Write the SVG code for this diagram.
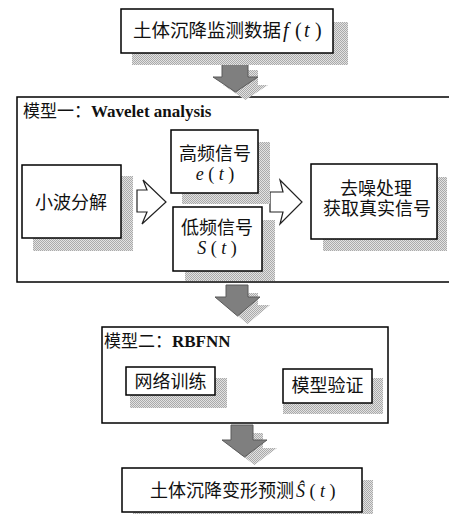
<svg xmlns="http://www.w3.org/2000/svg" width="449" height="514" viewBox="0 0 449 514">
<defs>
<pattern id="dots" width="2" height="2" patternUnits="userSpaceOnUse">
<rect width="2" height="2" fill="#e2e2e2"/>
<rect width="1" height="1" fill="#aaaaaa"/>
<rect x="1" y="1" width="1" height="1" fill="#aaaaaa"/>
</pattern>
<style>
.box{fill:#fff;stroke:#000;stroke-width:1.5}
.frame{fill:none;stroke:#000;stroke-width:1.5}
.sh{fill:url(#dots)}
.t{font-family:"Liberation Serif","Noto Sans CJK SC",serif;font-size:18px;fill:#111}
.it{font-style:italic}
.title{font-family:"Liberation Serif","Noto Sans CJK SC",serif;font-size:17px;fill:#111}
.b{font-weight:bold}
.garrow{fill:#7f7f7f;stroke:#5a5a5a;stroke-width:1}
.sarrow{fill:url(#dots)}
.oarrow{fill:#fff;stroke:#222;stroke-width:1.2;stroke-linejoin:miter}
</style>
</defs>
<rect width="449" height="514" fill="#fff"/>

<g id="model1">
<rect class="frame" x="17" y="97" width="440" height="185"/>
<text class="title" x="23" y="117">模型一：<tspan class="b">Wavelet analysis</tspan></text>
</g>
<g id="model2">
<rect class="frame" x="102" y="327" width="286" height="96"/>
<text class="title" x="104" y="347">模型二：<tspan class="b">RBFNN</tspan></text>
</g>

<g id="connectors">
<polygon class="sarrow" points="232,70 258,70 258,85 268,85 245.5,100 223,85 232,85"/>
<polygon class="garrow" points="222,62 248,62 248,77 258,77 235.5,92 213,77 222,77"/>
<polygon class="sarrow" points="236,293 258,293 258,305 270,305 247.5,324 225,305 236,305"/>
<polygon class="garrow" points="226,285 248,285 248,297 260,297 237.5,316 215,297 226,297"/>
<polygon class="sarrow" points="241,433 263,433 263,448 277,448 254.5,465 232,448 241,448"/>
<polygon class="garrow" points="231,425 253,425 253,440 267,440 244.5,457 222,440 231,440"/>
<polygon class="oarrow" points="137,190 147,190 143,180 166,202 142,224 147,212 137,212"/>
<polygon class="oarrow" points="270,192 283,192 280,180 302,202 280,224 283,212 270,212"/>
</g>

<g id="source">
<rect class="sh" x="132" y="22" width="216" height="43"/>
<rect class="box" x="121" y="9" width="212" height="44"/>
<text class="t" x="133" y="37" style="font-size:18.5px">土体沉降监测数据<tspan class="it" x="283" style="font-size:20px">f</tspan><tspan x="295" style="font-size:20px">(</tspan><tspan class="it" x="304" style="font-size:20px">t</tspan><tspan x="315" style="font-size:20px">)</tspan></text>
</g>

<g id="decompose">
<rect class="sh" x="33" y="176" width="100" height="75"/>
<rect class="box" x="22" y="165" width="99" height="73"/>
<text class="t" x="71" y="209" text-anchor="middle">小波分解</text>
</g>

<g id="high">
<rect class="sh" x="182" y="142" width="88" height="62"/>
<rect class="box" x="171" y="130" width="87" height="63"/>
<text class="t" x="215" y="160" text-anchor="middle">高频信号</text>
<text class="t" x="215" y="180" text-anchor="middle"><tspan class="it">e</tspan> ( <tspan class="it">t</tspan> )</text>
</g>

<g id="low">
<rect class="sh" x="185" y="220" width="90" height="61"/>
<rect class="box" x="173" y="207" width="89" height="64"/>
<text class="t" x="217" y="234" text-anchor="middle">低频信号</text>
<text class="t" x="217" y="254" text-anchor="middle"><tspan class="it">S</tspan> ( <tspan class="it">t</tspan> )</text>
</g>

<g id="denoise">
<rect class="sh" x="323" y="177" width="124" height="74"/>
<rect class="box" x="311" y="164" width="126" height="75"/>
<text class="t" x="376" y="195" text-anchor="middle">去噪处理</text>
<text class="t" x="377" y="215" text-anchor="middle">获取真实信号</text>
</g>

<g id="train">
<rect class="sh" x="130" y="378" width="97" height="30"/>
<rect class="box" x="126" y="367" width="89" height="28"/>
<text class="t" x="170.5" y="388" text-anchor="middle">网络训练</text>
</g>

<g id="verify">
<rect class="sh" x="283" y="378" width="100" height="36"/>
<rect class="box" x="283" y="369" width="89" height="34"/>
<text class="t" x="327.5" y="392" text-anchor="middle">模型验证</text>
</g>

<g id="predict">
<rect class="sh" x="133" y="480" width="240" height="40"/>
<rect class="box" x="122" y="468" width="240" height="44"/>
<text class="t" x="150" y="497">土体沉降变形预测<tspan class="it" dx="2">Ŝ</tspan> ( <tspan class="it">t</tspan> )</text>
</g>
</svg>
